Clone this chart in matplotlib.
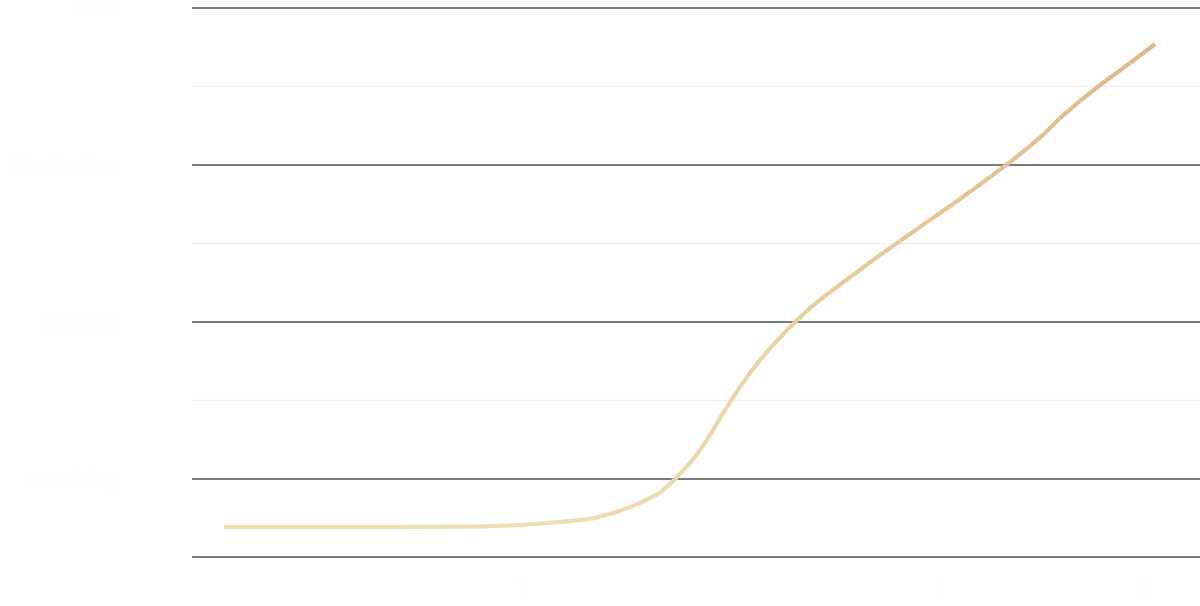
import matplotlib.pyplot as plt
import numpy as np
from matplotlib.collections import LineCollection
from matplotlib.colors import LinearSegmentedColormap

# 値は画像から読み取った
x_vals = [3.08, 20.56, 28.50, 32.47, 36.45, 39.42, 41.41, 42.90, 44.39, 46.38,
          47.87, 49.35, 50.35, 51.34, 52.33, 53.33, 54.32, 55.31, 56.31, 57.60,
          58.99, 59.78, 61.27, 63.26, 65.54, 68.22, 70.21, 73.19, 76.17, 79.15,
          81.13, 83.12, 84.61, 86.10, 88.08, 90.07, 93.05, 95.53]
y_vals = [0.383, 0.383, 0.388, 0.408, 0.446, 0.484, 0.548, 0.612, 0.689, 0.816,
          0.994, 1.199, 1.364, 1.555, 1.772, 1.976, 2.168, 2.346, 2.512, 2.703,
          2.894, 2.996, 3.175, 3.379, 3.596, 3.851, 4.029, 4.297, 4.565, 4.845,
          5.036, 5.240, 5.406, 5.597, 5.814, 6.018, 6.298, 6.540]
y_ticks = [1, 3, 5, 7]
y_labels = ["Breathing", "Resting", "Meditating", "Peak"]
x_ticks = [32.7, 74.2, 94.4]
x_labels = ["1", "2", "3"]

fig = plt.figure(figsize=(12, 6.06), dpi=100)
ax = fig.add_axes([0.161, 0.0809, 0.839, 0.9059])
ax.set_xlim(0, 100)
ax.set_ylim(0, 7)

# グリッド線
for v in [2, 4, 6]:
    ax.axhline(v, color="#efefef", lw=1.0, zorder=1)
for v in [0, 1, 3, 5, 7]:
    ax.axhline(v, color="#6c6c6c", lw=1.3, zorder=1, clip_on=False)

# グラデーションの線
x = np.array(x_vals)
y = np.array(y_vals)
pts = np.array([x, y]).T.reshape(-1, 1, 2)
segs = np.concatenate([pts[:-1], pts[1:]], axis=1)
cmap = LinearSegmentedColormap.from_list("sand", ["#efdfb6", "#ead3a4", "#ddb98b"])
lc = LineCollection(segs, cmap=cmap, linewidth=3.0, capstyle="butt", zorder=3)
lc.set_array(np.linspace(0, 1, len(segs)))
ax.add_collection(lc)

for s in ax.spines.values():
    s.set_visible(False)
ax.set_yticks(y_ticks)
ax.set_yticklabels(y_labels, color="#fefefe", fontsize=14)
ax.set_xticks(x_ticks)
ax.set_xticklabels(x_labels, color="#fefefe", fontsize=12)
ax.tick_params(axis="y", length=0, pad=55)
ax.tick_params(axis="x", length=0, pad=16)

fig.savefig("out.png", dpi=100, facecolor="white")
